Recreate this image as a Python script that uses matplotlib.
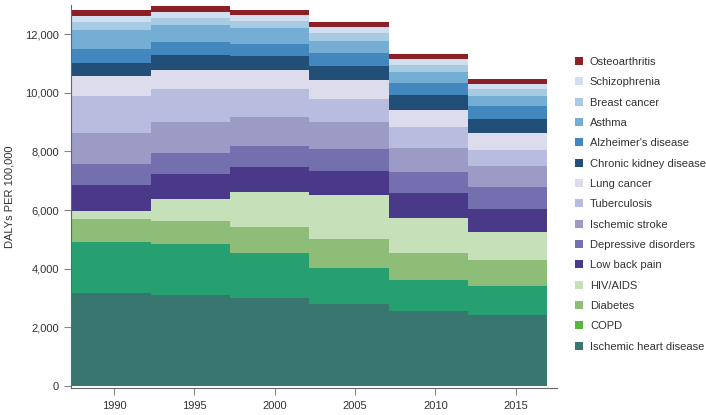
import matplotlib
matplotlib.use("Agg")
import matplotlib.pyplot as plt
from matplotlib.patches import Patch
import numpy as np

plt.rcParams['font.family'] = ['Liberation Sans', 'DejaVu Sans']

years = [1990, 1995, 2000, 2005, 2010, 2015]

# causes from bottom to top of the stack
causes = ['Ischemic heart disease', 'COPD', 'Diabetes', 'HIV/AIDS', 'Low back pain',
          'Depressive disorders', 'Ischemic stroke', 'Tuberculosis', 'Lung cancer',
          'Chronic kidney disease', "Alzheimer's disease", 'Asthma', 'Breast cancer',
          'Schizophrenia', 'Osteoarthritis']

ihd = [3176, 3098, 3005, 2790, 2561, 2415]
copd = [1742, 1731, 1517, 1240, 1049, 990]
diabetes = [775, 806, 908, 970, 912, 888]
hiv = [284, 741, 1196, 1513, 1195, 946]
low_back = [877, 854, 854, 830, 875, 806]
depressive = [707, 728, 717, 731, 717, 751]
stroke = [1059, 1048, 990, 942, 819, 708]
tb = [1274, 1117, 956, 786, 707, 546]
lung = [673, 659, 639, 639, 581, 570]
ckd = [464, 512, 478, 488, 512, 489]
alzheimer = [458, 434, 410, 423, 420, 444]
asthma = [649, 591, 536, 431, 376, 351]
breast = [283, 229, 249, 252, 218, 219]
schizo = [205, 225, 195, 205, 205, 181]
osteo = [195, 195, 191, 192, 181, 171]

series = [ihd, copd, diabetes, hiv, low_back, depressive, stroke, tb, lung,
          ckd, alzheimer, asthma, breast, schizo, osteo]

colors = ['#38766f', '#26a071', '#8dbd77', '#c6e0b9', '#4a3889', '#7470b0',
          '#9b9bc6', '#b8bde0', '#dcdcec', '#214f78', '#4287be', '#74aed4',
          '#a6cbe3', '#d1def0', '#8b2027']
legend_colors = list(colors)
legend_colors[1] = '#5cb33f'

fig = plt.figure(figsize=(7.06, 4.15), dpi=100)
ax = fig.add_axes([0.1006, 0.0643, 0.6884, 0.9234])

# band-like steps: the column edges drift slightly from the year ticks
edges = np.linspace(1987.38, 2016.94, len(years) + 1)
bottom = np.zeros(len(years))
for vals, col, name in zip(series, colors, causes):
    ax.bar(edges[:-1], vals, width=np.diff(edges), align='edge', bottom=bottom,
           color=col, label=name, linewidth=0)
    bottom += np.array(vals)

ax.set_xlim(1987.32, 2017.57)
ax.set_ylim(-90, 13000)
ax.set_xticks(years)
ax.set_yticks([0, 2000, 4000, 6000, 8000, 10000, 12000])
ax.yaxis.set_major_formatter(matplotlib.ticker.FuncFormatter(lambda v, p: f'{int(v):,}'))
ax.set_ylabel('DALYs PER 100,000', fontsize=8, color='#333333', labelpad=8)

for s in ['top', 'right']:
    ax.spines[s].set_visible(False)
for s in ['left', 'bottom']:
    ax.spines[s].set_color('#666666')
    ax.spines[s].set_linewidth(0.8)
ax.tick_params(axis='both', colors='#888888', labelcolor='#333333', labelsize=8,
               length=5, width=0.8)
ax.tick_params(axis='x', pad=4)

handles = [Patch(facecolor=c, edgecolor='none') for c in legend_colors]
fig.legend(handles[::-1], causes[::-1], loc='center left',
           bbox_to_anchor=(0.808, 0.508), frameon=False, fontsize=8,
           handlelength=0.75, handleheight=0.75, handletextpad=0.6,
           labelspacing=0.93, labelcolor='#333333', borderaxespad=0)

fig.savefig('out.png', dpi=100)
